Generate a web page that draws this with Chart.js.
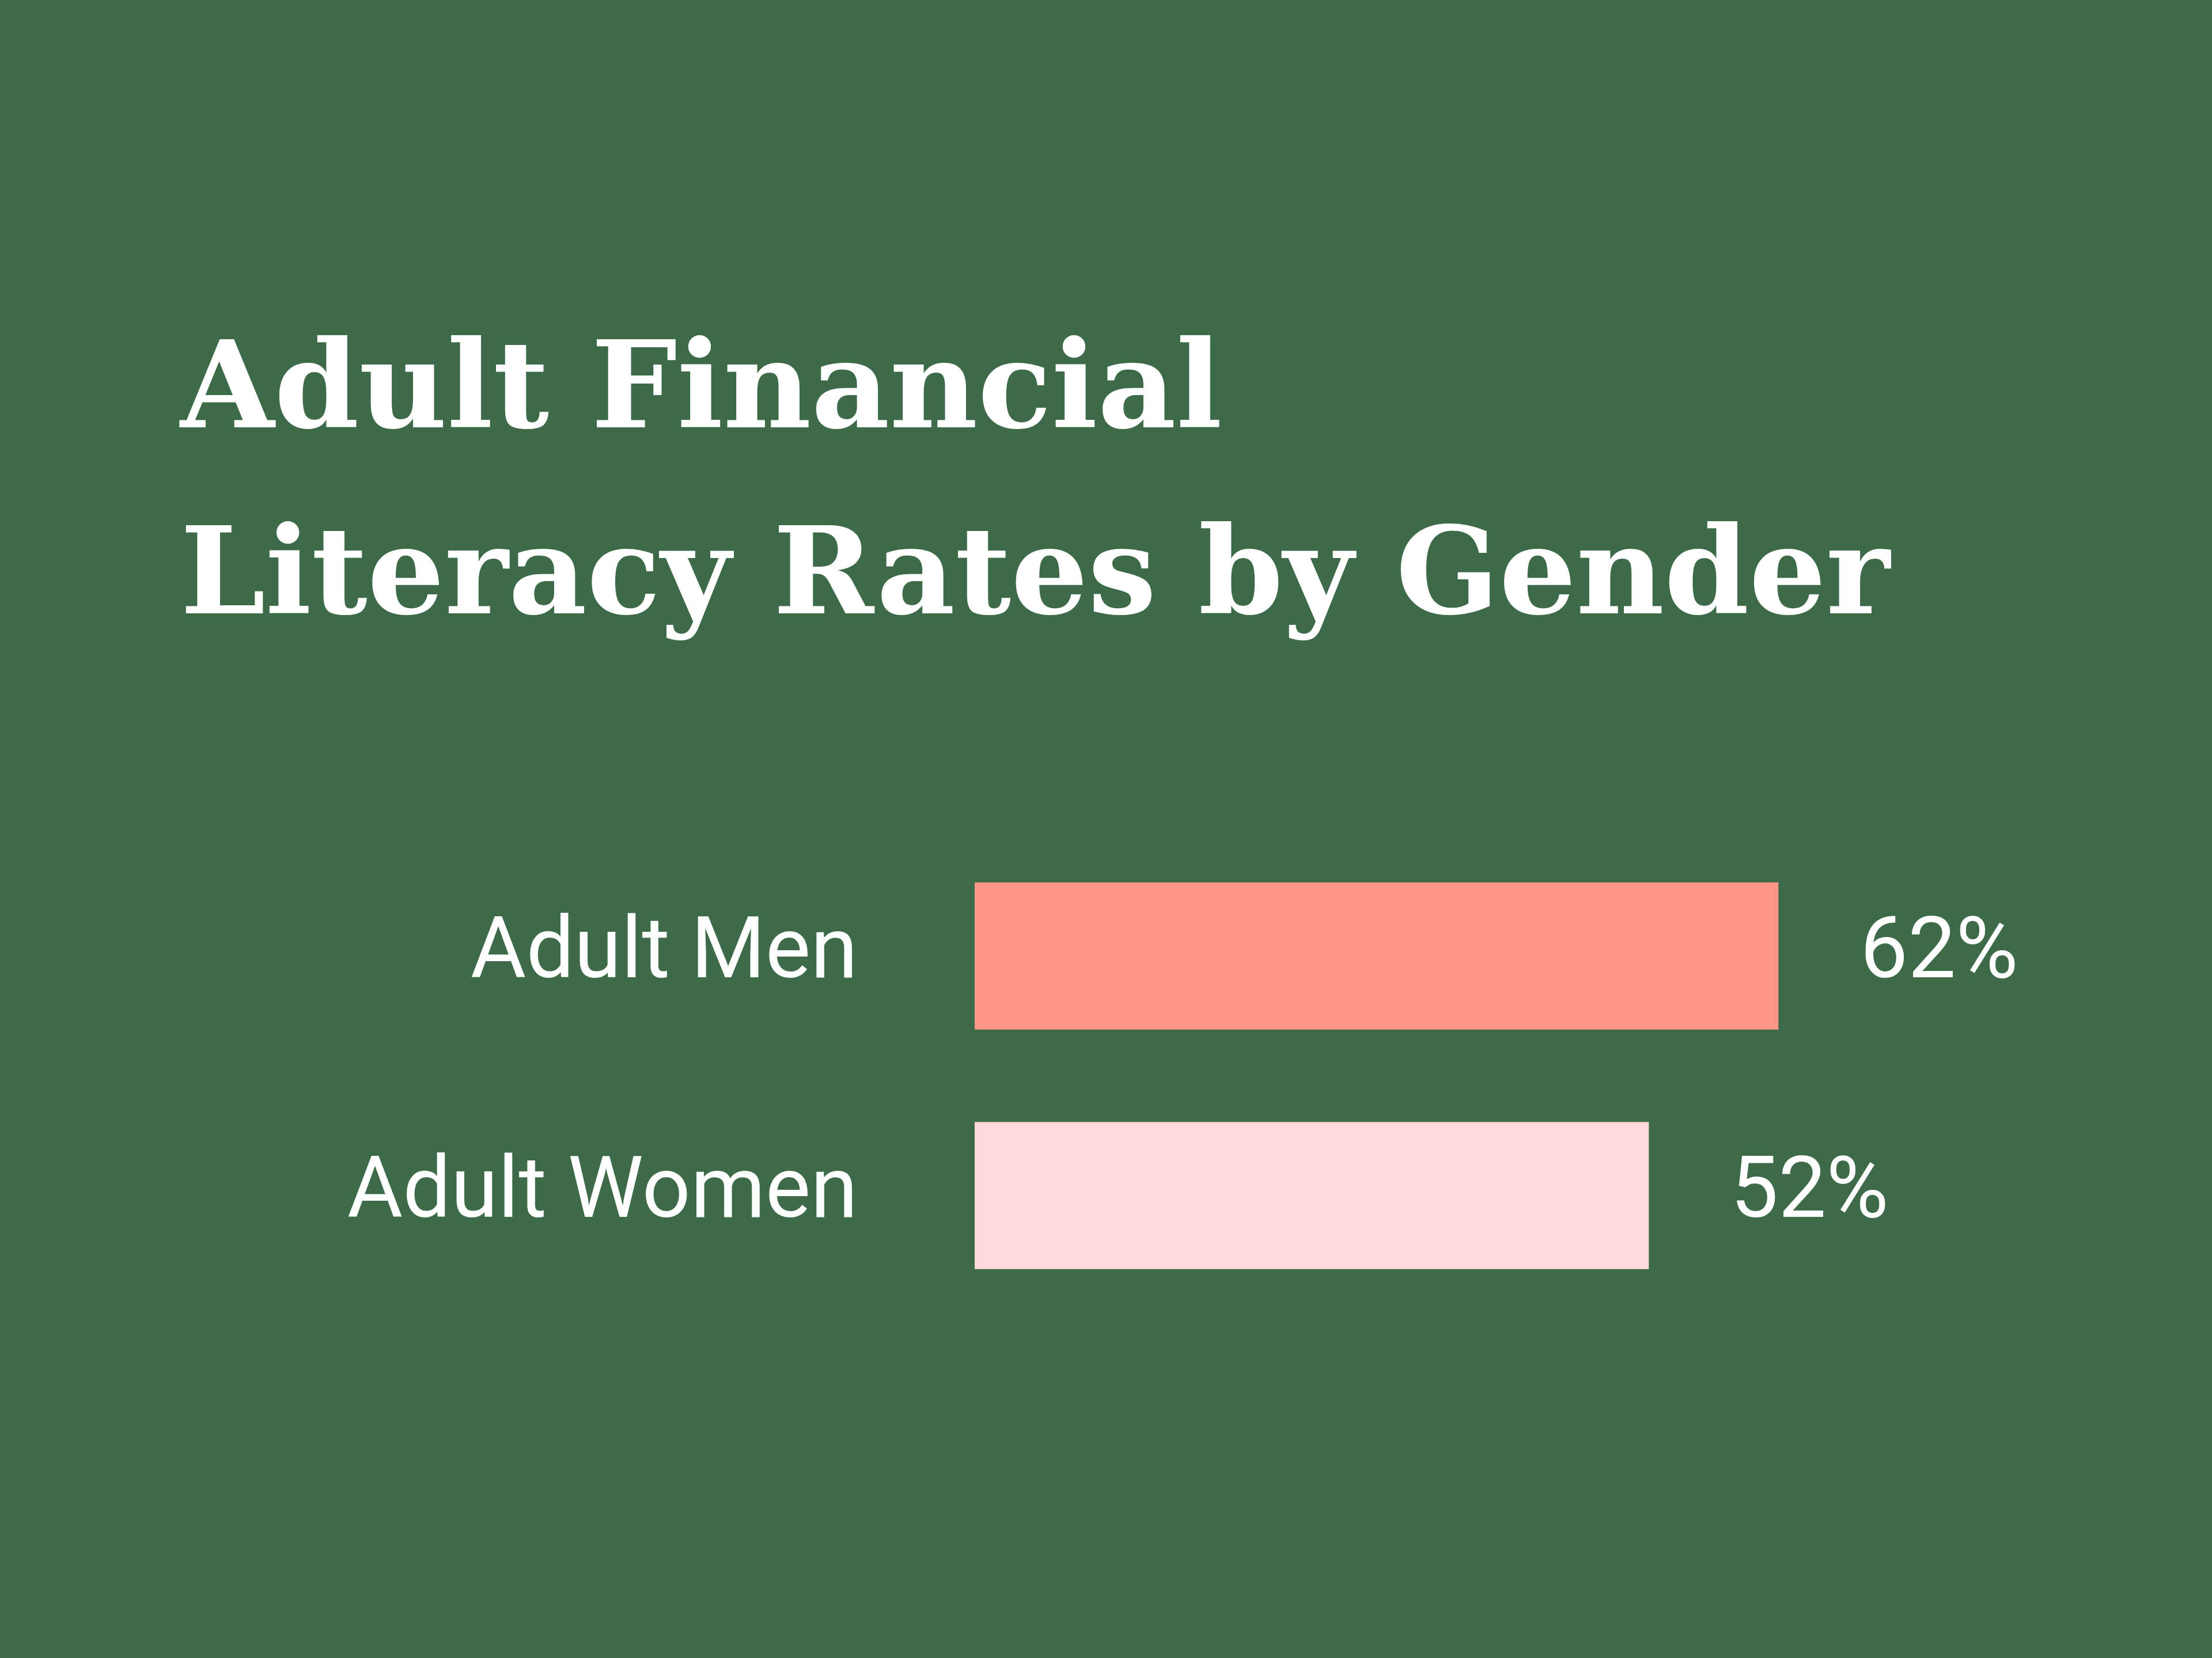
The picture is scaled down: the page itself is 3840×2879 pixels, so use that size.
<!DOCTYPE html>
<html><head><meta charset="utf-8">
<script src="https://cdn.jsdelivr.net/npm/chart.js@4"></script>
<style>html,body{margin:0;padding:0;background:#3d6b4a}canvas{display:block}</style>
</head><body>
<div style="width:3840px;height:2879px"><canvas id="c"></canvas></div>
<script>
const categories = ["Adult Men", "Adult Women"];
const values = [62, 52];
const valueLabels = ["62%", "52%"];
const titleLines = ["Adult Financial", "Literacy Rates by Gender"];
const colors = ["#ff968a", "#ffd9d9"];

const overlay = {
  id: 'overlay',
  afterDraw(chart) {
    const ctx = chart.ctx;
    ctx.save();
    ctx.fillStyle = '#ffffff';
    ctx.textAlign = 'left';
    ctx.textBaseline = 'alphabetic';
    ctx.font = 'bold 250px "DejaVu Serif"';
    const w = ctx.measureText(titleLines[1]).width;
    const size = 250 * 2968 / w;
    ctx.font = 'bold ' + size + 'px "DejaVu Serif"';
    ctx.fillText(titleLines[0], 313, 742);
    ctx.fillText(titleLines[1], 313, 1065);
    const xs = chart.scales.x, ys = chart.scales.y;
    ctx.font = '148px Roboto';
    ctx.textBaseline = 'middle';
    categories.forEach((c, i) => {
      const y = ys.getPixelForValue(i);
      ctx.textAlign = 'right';
      ctx.fillText(c, 1489, y);
      ctx.textAlign = 'left';
      ctx.fillText(valueLabels[i], xs.getPixelForValue(values[i]) + 142, y);
    });
    ctx.restore();
  }
};

new Chart(document.getElementById('c'), {
  type: 'bar',
  data: { labels: categories, datasets: [{ data: values, backgroundColor: colors, barThickness: 255, borderWidth: 0 }] },
  options: {
    indexAxis: 'y', responsive: true, maintainAspectRatio: false, animation: false,
    devicePixelRatio: 1,
    layout: { padding: { left: 1692, right: 573, top: 1452, bottom: 595 } },
    plugins: { legend: { display: false }, tooltip: { enabled: false } },
    scales: {
      x: { display: false, min: 0, max: 70 },
      y: { display: false }
    }
  },
  plugins: [overlay]
});
</script>
</body></html>
